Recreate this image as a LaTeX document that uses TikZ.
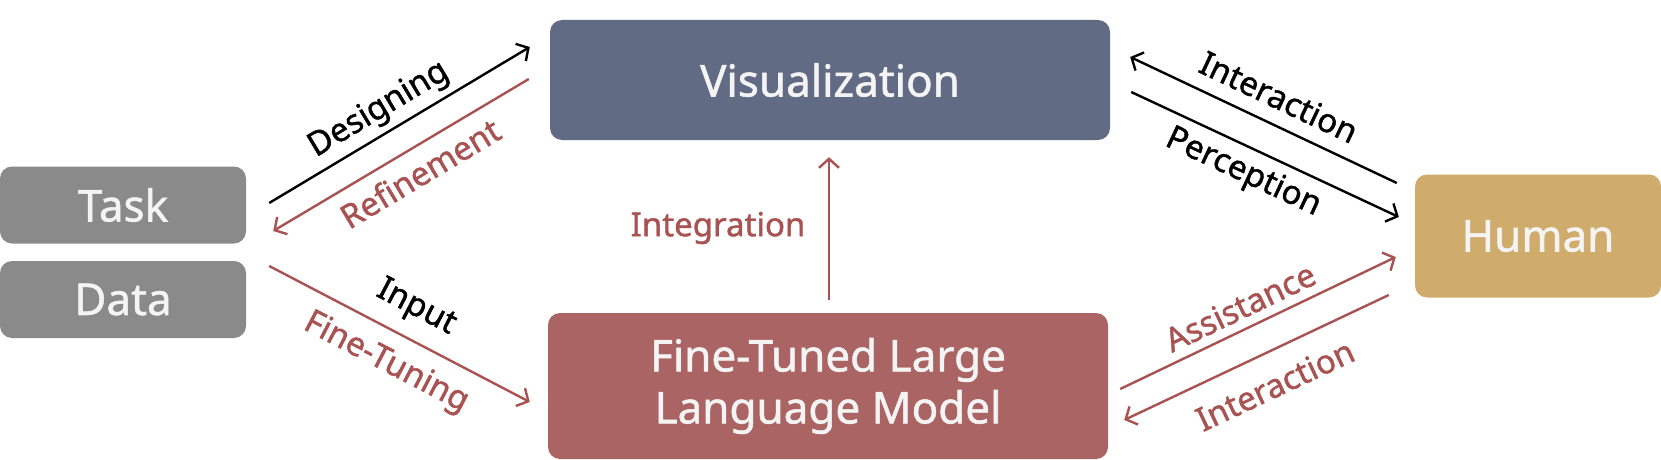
\documentclass[tikz,border=0pt]{standalone}
\usepackage{fontspec}
\setmainfont{Noto Sans}[FakeBold=1.2]
\usetikzlibrary{calc,arrows.meta}
\definecolor{visc}{HTML}{616B84}
\definecolor{llmc}{HTML}{AA6463}
\definecolor{humc}{HTML}{D0AC6C}
\definecolor{grayc}{HTML}{8A8A8A}
\definecolor{redc}{HTML}{A85252}
\definecolor{txtc}{HTML}{F4F4F4}
\tikzset{
  box/.style={fill=#1, draw=none, rounded corners=12pt, text=txtc, align=center,
    font=\fontsize{44}{50}\selectfont, inner sep=0pt},
  lbl/.style={font=\fontsize{33}{36}\selectfont, inner sep=0pt},
  blk/.style={draw=black, line width=2.4pt, -{Straight Barb[length=9pt,width=20pt,line width=2.4pt]}},
  redarr/.style={draw=redc, line width=2.4pt, -{Straight Barb[length=9pt,width=20pt,line width=2.4pt]}},
}
\begin{document}
\begin{tikzpicture}[x=1pt,y=-1pt]
\useasboundingbox (0,0) rectangle (1661,460);
\node[box=grayc, minimum width=246pt, minimum height=77pt] (task) at (123,205) {Task};
\node[box=grayc, minimum width=246pt, minimum height=77pt] (data) at (123,299.5) {Data};
\node[box=visc, minimum width=560pt, minimum height=120pt] (vis) at (830,80) {Visualization};
\node[box=llmc, minimum width=560pt, minimum height=146pt, font=\fontsize{44}{52}\selectfont] (llm) at (828,386) {Fine-Tuned Large\\Language Model};
\node[box=humc, minimum width=246pt, minimum height=123pt] (hum) at (1538,236) {Human};

% left arrows
\draw[blk] ($(task.east)+(23,-2)$) -- ($(vis.west)+(-20,-33)$);
\draw[redarr] ($(vis.west)+(-21,-1)$) -- ($(task.east)+(27,26)$);
\draw[redarr] ($(data.east)+(23,-33.5)$) -- ($(llm.west)+(-18,16)$);
% integration
\draw[redarr] ($(llm.north)+(1,-13)$) -- ($(vis.south)+(-1,17)$);
% right arrows
\draw[blk] ($(hum.west)+(-18,-53)$) -- ($(vis.east)+(20,-23)$);
\draw[blk] ($(vis.east)+(21,12)$) -- ($(hum.west)+(-16,-19)$);
\draw[redarr] ($(llm.east)+(12,3)$) -- ($(hum.west)+(-19,21)$);
\draw[redarr] ($(hum.west)+(-26,59)$) -- ($(llm.east)+(16,34)$);

% labels
\node[lbl, rotate=31] (lDes) at (379,110) {Designing};
\node[lbl, rotate=31, text=redc] (lRef) at (420,173) {Refinement};
\node[lbl, rotate=-27.5] (lIn) at (416,308) {Input};
\node[lbl, rotate=-27.5, text=redc] (lFt) at (386,363) {Fine-Tuning};
\node[lbl, text=redc] (lInt) at (718,228) {Integration};
\node[lbl, rotate=-25.3] (lIa) at (1279,97) {Interaction};
\node[lbl, rotate=-25] (lPer) at (1243,173) {Perception};
\node[lbl, rotate=25.6, text=redc] (lAs) at (1240,307) {Assistance};
\node[lbl, rotate=25.2, text=redc] (lIb) at (1275,385) {Interaction};
\end{tikzpicture}
\end{document}
